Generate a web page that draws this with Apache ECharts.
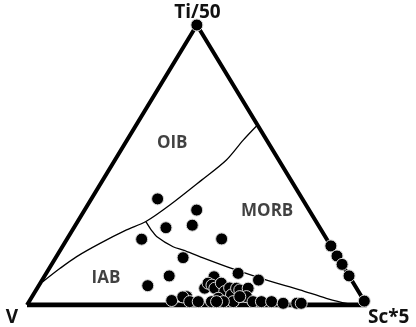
<!DOCTYPE html>
<html><head><meta charset="utf-8">
<script src="https://cdn.jsdelivr.net/npm/echarts@6/dist/echarts.min.js"></script>
<style>html,body{margin:0;padding:0;background:#fff}#c{width:416px;height:327px}</style>
</head><body><div id="c"></div>
<script>
// Apex labels (top, bottom-left, bottom-right)
const apexLabels = ['Ti/50', 'V', 'Sc*5'];

// Samples as [Ti/50 %, V %, Sc*5 %]
const samples = [
  [100, 0, 0],
  [37.9, 42.6, 19.5], [33.9, 33.1, 33.0], [27.6, 45.3, 27.1], [28.5, 37.1, 34.4],
  [23.5, 54.5, 22.0], [23.6, 30.9, 45.5], [16.9, 45.6, 37.5], [10.4, 53.0, 36.7],
  [6.9, 61.0, 32.1], [11.3, 32.2, 56.5], [8.9, 27.4, 63.7], [10.1, 39.9, 50.0],
  [21.1, 0, 78.9], [17.5, 0, 82.5], [14.5, 0, 85.5], [10.4, 0, 89.6], [1.4, 0, 98.6],
  [1.6, 56.6, 41.8], [3.0, 51.5, 45.5], [2.9, 52.7, 44.4], [1.2, 51.5, 47.3], [1.2, 49.0, 49.8],
  [6.0, 44.7, 49.3], [7.8, 42.8, 49.4], [7.1, 42.0, 50.9], [6.0, 41.7, 52.3], [7.8, 38.9, 53.3],
  [4.8, 39.4, 55.8], [6.1, 37.3, 56.6], [2.4, 42.5, 55.1], [1.2, 45.1, 53.7], [3.6, 38.0, 58.4],
  [1.2, 38.7, 60.1], [6.0, 35.3, 58.7], [5.4, 34.7, 60.0], [6.0, 31.9, 62.1], [3.0, 33.9, 63.1],
  [3.0, 35.9, 61.2], [1.2, 32.9, 66.0], [1.2, 30.4, 68.4], [1.2, 27.4, 71.4],
  [0.6, 24.3, 75.1], [0.6, 20.3, 79.1], [0.6, 19.0, 80.5], [1.2, 41.6, 57.2],
  [1.2, 43.6, 55.2]
];

// OIB / MORB (upper) and IAB (lower-left) boundary, right edge -> junction -> left edge
const upperBoundary = [
  [64.3, 0, 35.7], [58.9, 6.9, 34.2], [51.8, 15.4, 32.8], [44.6, 26.3, 29.1],
  [35.7, 40.1, 24.2], [29.8, 50.1, 20.1], [26.8, 57.3, 15.9], [22.0, 67.5, 10.5],
  [17.3, 76.8, 6.0], [13.1, 83.7, 3.2], [8.3, 91.2, 0.5]
];

// MORB / IAB boundary, junction -> Sc*5 corner
const lowerBoundary = [
  [29.8, 50.1, 20.1], [26.6, 50.0, 23.4], [24.5, 49.6, 25.9], [20.8, 46.6, 32.6],
  [19.6, 44.2, 36.2], [17.3, 40.5, 42.2], [12.9, 32.9, 54.2], [8.9, 25.0, 66.1],
  [5.4, 17.0, 77.6], [2.4, 10.7, 86.9], [0.6, 5.7, 93.7], [0, 1.2, 98.8]
];

// Field names and positions [Ti, V, Sc]
const fieldNames = ['OIB', 'MORB', 'IAB'];
const fieldPos = [[57.7, 28.4, 13.9], [33.6, 12.5, 53.9], [9.5, 72.0, 18.5]];

function toXY(p) {
  const t = p[0] / (p[0] + p[1] + p[2]);
  const s = p[2] / (p[0] + p[1] + p[2]);
  return [s + t / 2, t];
}

const FONT = '"Open Sans", "Noto Sans", sans-serif';
const chart = echarts.init(document.getElementById('c'), null, {renderer: 'canvas'});
chart.setOption({
  animation: false,
  backgroundColor: '#fff',
  grid: {left: 27, right: 49.3, top: 25, bottom: 22, containLabel: false},
  xAxis: {type: 'value', min: 0, max: 1, show: false},
  yAxis: {type: 'value', min: 0, max: 1, show: false},
  series: [
    {type: 'line', data: [toXY([0,100,0]), toXY([0,0,100])], symbol: 'none',
     lineStyle: {color: '#000', width: 5}, z: 2},
    {type: 'line', data: [toXY([0,0,100]), toXY([100,0,0]), toXY([0,100,0])], symbol: 'none',
     lineStyle: {color: '#000', width: 4, join: 'miter'}, z: 2},
    {type: 'line', data: upperBoundary.map(toXY), symbol: 'none', smooth: 0.3,
     lineStyle: {color: '#000', width: 1.3}, z: 2},
    {type: 'line', data: lowerBoundary.map(toXY), symbol: 'none', smooth: 0.3,
     lineStyle: {color: '#000', width: 1.3}, z: 2},
    {type: 'scatter', data: fieldPos.map((p, i) => ({value: toXY(p), name: fieldNames[i]})),
     symbolSize: 0, silent: true,
     label: {show: true, position: 'inside', formatter: '{b}', color: '#111',
             fontFamily: FONT, fontWeight: 'bold', fontSize: 17}, z: 3},
    {type: 'scatter', data: samples.map(toXY), symbol: 'circle', symbolSize: 12,
     itemStyle: {color: '#000', borderColor: '#d8d8d8', borderWidth: 1, opacity: 1}, z: 5}
  ],
  graphic: [
    {type: 'text', style: {text: apexLabels[0], x: 197.5, y: 13, align: 'center',
      verticalAlign: 'middle', font: 'bold 19px ' + FONT, fill: '#111'}},
    {type: 'text', style: {text: apexLabels[1], x: 12, y: 318, align: 'center',
      verticalAlign: 'middle', font: 'bold 19px ' + FONT, fill: '#111'}},
    {type: 'text', style: {text: apexLabels[2], x: 368, y: 318, align: 'left',
      verticalAlign: 'middle', font: 'bold 19px ' + FONT, fill: '#111'}}
  ]
});
</script>
</body></html>
